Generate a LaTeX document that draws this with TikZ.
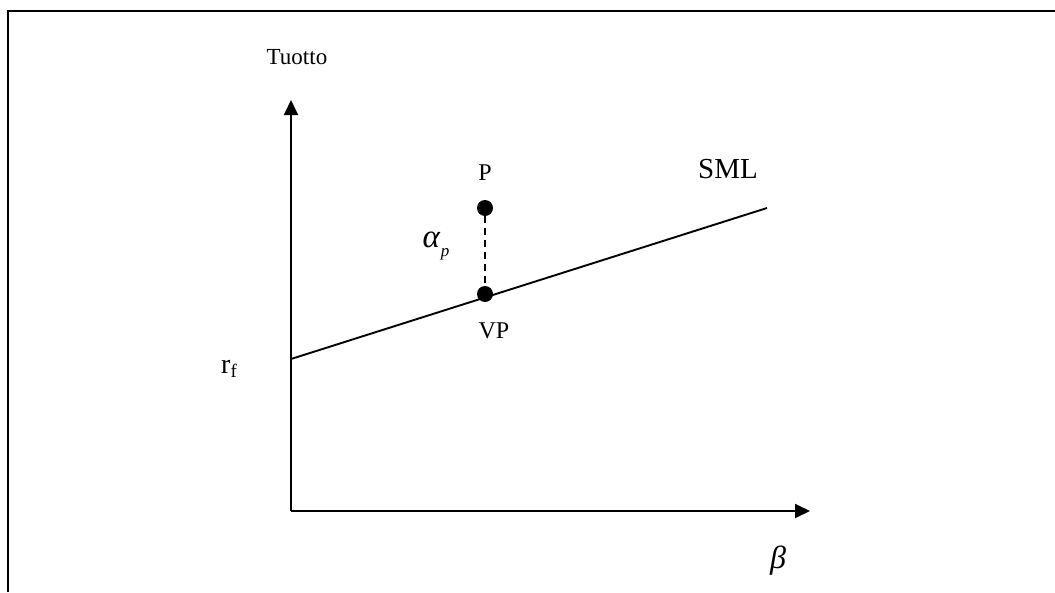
\documentclass[tikz,border=0pt]{standalone}
\usepackage{fontspec}
\setmainfont{Liberation Serif}
\usetikzlibrary{arrows.meta}
\begin{document}
\begin{tikzpicture}[x=1pt,y=-1pt,
  axis/.style={line width=1.9pt,-{Triangle[length=15pt,width=14pt]}},
  line/.style={line width=1.9pt},
  dot/.style={circle,fill=black,inner sep=0pt,minimum size=16pt},
  lbl/.style={inner sep=0pt,anchor=base}]
\useasboundingbox (0,0) rectangle (1055,592);
\draw[line width=2pt] (8,592) -- (8,11) -- (1055,11);
\coordinate (O) at (291,511);
\coordinate (Ytip) at (291,100);
\coordinate (Xtip) at (810,511);
\coordinate (Rf) at (291,359);
\coordinate (Send) at (767,208);
\draw[axis] (O) -- (Ytip);
\draw[axis] (O) -- (Xtip);
\draw[line] (Rf) -- (Send);
\node[dot] (P) at (485,208) {};
\node[dot] (VP) at (485,294) {};
\draw[line width=1.6pt,dash pattern=on 7pt off 5pt] (P) -- (VP);
\node[lbl,font=\fontsize{23}{26}\selectfont] (tuotto) at (297,64) {Tuotto};
\node[lbl,font=\fontsize{24}{28}\selectfont] (plbl) at (485,180) {P};
\node[lbl,font=\fontsize{24}{28}\selectfont] (vplbl) at (494,338) {VP};
\node[lbl,font=\fontsize{29}{32}\selectfont] (sml) at (728,178) {SML};
\node[lbl,font=\fontsize{28}{32}\selectfont] (rf) at (229,373) {r\raisebox{-4pt}{\fontsize{19}{20}\selectfont f}};
\node[lbl,font=\fontsize{33}{36}\selectfont] (alpha) at (436,247) {\itshape α\hspace{1pt}\raisebox{-9pt}{\fontsize{17}{18}\selectfont p}};
\node[lbl,font=\fontsize{32}{34}\selectfont] (beta) at (778,568) {\itshape β};
\end{tikzpicture}
\end{document}
